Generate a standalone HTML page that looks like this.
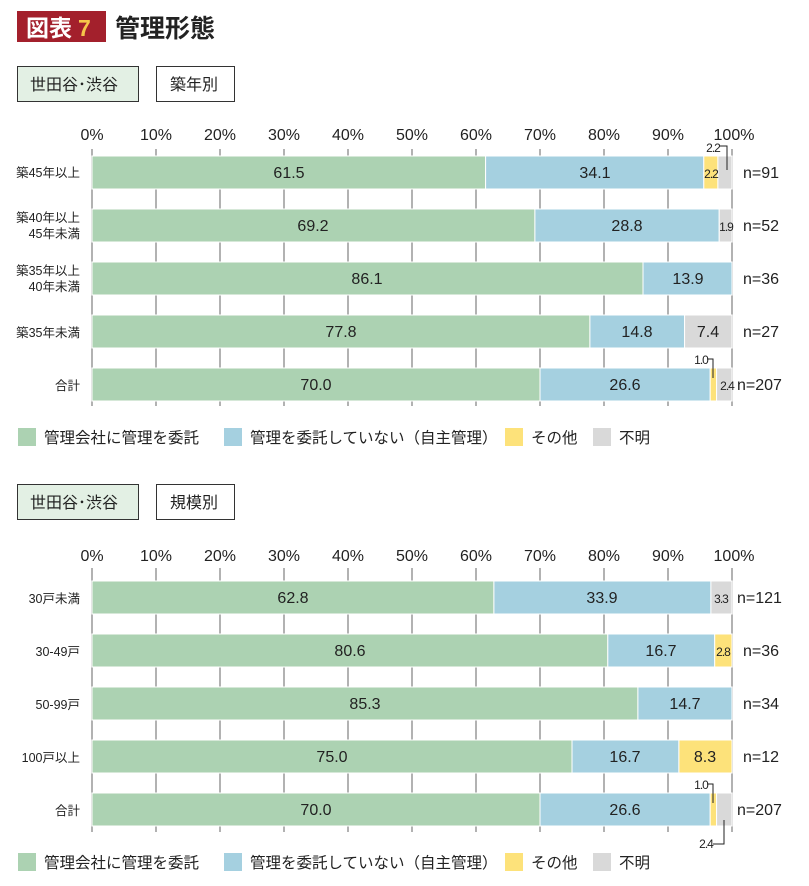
<!DOCTYPE html>
<html><head><meta charset="utf-8"><style>
body{margin:0;background:#fff;width:809px;height:886px;overflow:hidden}
svg{display:block;font-family:"Liberation Sans","Noto Sans CJK JP",sans-serif}
</style></head><body>
<svg width="809" height="886" viewBox="0 0 809 886">
<rect x="17" y="11" width="89" height="31" fill="#a3202c"/>
<text x="26" y="36" font-size="23" font-weight="bold" fill="#fff">図表</text>
<text x="78" y="36" font-size="23" font-weight="bold" fill="#f6c64a">7</text>
<text x="115" y="37" font-size="25" font-weight="bold" fill="#222">管理形態</text>

<g font-size="16" fill="#222">
<rect x="17.5" y="66.5" width="121" height="35" fill="#e3f0e4" stroke="#333"/>
<text x="30" y="90">世田谷･渋谷</text>
<rect x="156.5" y="66.5" width="78" height="35" fill="#fff" stroke="#333"/>
<text x="170" y="90">築年別</text>
<rect x="17.5" y="484.5" width="121" height="35" fill="#e3f0e4" stroke="#333"/>
<text x="30" y="508">世田谷･渋谷</text>
<rect x="156.5" y="484.5" width="78" height="35" fill="#fff" stroke="#333"/>
<text x="170" y="508">規模別</text>
</g>

<!-- axis labels -->
<g font-size="16" fill="#222" text-anchor="middle">
<text x="92" y="140">0%</text><text x="156" y="140">10%</text><text x="220" y="140">20%</text><text x="284" y="140">30%</text><text x="348" y="140">40%</text><text x="412" y="140">50%</text><text x="476" y="140">60%</text><text x="540" y="140">70%</text><text x="604" y="140">80%</text><text x="668" y="140">90%</text><text x="734" y="140">100%</text>
<text x="92" y="561">0%</text><text x="156" y="561">10%</text><text x="220" y="561">20%</text><text x="284" y="561">30%</text><text x="348" y="561">40%</text><text x="412" y="561">50%</text><text x="476" y="561">60%</text><text x="540" y="561">70%</text><text x="604" y="561">80%</text><text x="668" y="561">90%</text><text x="734" y="561">100%</text>
</g>
<g stroke="#999" stroke-width="1.5">
<line x1="92" y1="149" x2="92" y2="406"/><line x1="156" y1="149" x2="156" y2="406"/><line x1="220" y1="149" x2="220" y2="406"/><line x1="284" y1="149" x2="284" y2="406"/><line x1="348" y1="149" x2="348" y2="406"/><line x1="412" y1="149" x2="412" y2="406"/><line x1="476" y1="149" x2="476" y2="406"/><line x1="540" y1="149" x2="540" y2="406"/><line x1="604" y1="149" x2="604" y2="406"/><line x1="668" y1="149" x2="668" y2="406"/><line x1="732" y1="149" x2="732" y2="406"/>
<line x1="92" y1="568" x2="92" y2="832"/><line x1="156" y1="568" x2="156" y2="832"/><line x1="220" y1="568" x2="220" y2="832"/><line x1="284" y1="568" x2="284" y2="832"/><line x1="348" y1="568" x2="348" y2="832"/><line x1="412" y1="568" x2="412" y2="832"/><line x1="476" y1="568" x2="476" y2="832"/><line x1="540" y1="568" x2="540" y2="832"/><line x1="604" y1="568" x2="604" y2="832"/><line x1="668" y1="568" x2="668" y2="832"/><line x1="732" y1="568" x2="732" y2="832"/>
</g>

<!-- chart 1 bars -->
<g stroke="#fff" stroke-width="1">
<rect x="92" y="156" width="393.6" height="33" fill="#acd2b2"/><rect x="485.6" y="156" width="218.2" height="33" fill="#a5d0e0"/><rect x="703.8" y="156" width="14.1" height="33" fill="#fde27a"/><rect x="717.9" y="156" width="14.1" height="33" fill="#d9d9d9"/>
<rect x="92" y="209" width="442.9" height="33" fill="#acd2b2"/><rect x="534.9" y="209" width="184.3" height="33" fill="#a5d0e0"/><rect x="719.2" y="209" width="12.8" height="33" fill="#d9d9d9"/>
<rect x="92" y="262" width="551" height="33" fill="#acd2b2"/><rect x="643" y="262" width="89" height="33" fill="#a5d0e0"/>
<rect x="92" y="315" width="497.9" height="33" fill="#acd2b2"/><rect x="589.9" y="315" width="94.7" height="33" fill="#a5d0e0"/><rect x="684.6" y="315" width="47.4" height="33" fill="#d9d9d9"/>
<rect x="92" y="368" width="448" height="33" fill="#acd2b2"/><rect x="540" y="368" width="170.2" height="33" fill="#a5d0e0"/><rect x="710.2" y="368" width="6.4" height="33" fill="#fde27a"/><rect x="716.6" y="368" width="15.4" height="33" fill="#d9d9d9"/>
</g>
<!-- chart 2 bars -->
<g stroke="#fff" stroke-width="1">
<rect x="92" y="581" width="401.9" height="33" fill="#acd2b2"/><rect x="493.9" y="581" width="217" height="33" fill="#a5d0e0"/><rect x="710.9" y="581" width="21.1" height="33" fill="#d9d9d9"/>
<rect x="92" y="634" width="515.8" height="33" fill="#acd2b2"/><rect x="607.8" y="634" width="106.9" height="33" fill="#a5d0e0"/><rect x="714.7" y="634" width="17.3" height="33" fill="#fde27a"/>
<rect x="92" y="687" width="545.9" height="33" fill="#acd2b2"/><rect x="637.9" y="687" width="94.1" height="33" fill="#a5d0e0"/>
<rect x="92" y="740" width="480" height="33" fill="#acd2b2"/><rect x="572" y="740" width="106.9" height="33" fill="#a5d0e0"/><rect x="678.9" y="740" width="53.1" height="33" fill="#fde27a"/>
<rect x="92" y="793" width="448" height="33" fill="#acd2b2"/><rect x="540" y="793" width="170.2" height="33" fill="#a5d0e0"/><rect x="710.2" y="793" width="6.4" height="33" fill="#fde27a"/><rect x="716.6" y="793" width="15.4" height="33" fill="#d9d9d9"/>
</g>

<g font-size="16" fill="#222" text-anchor="middle">
<text x="289" y="178">61.5</text><text x="595" y="178">34.1</text>
<text x="313" y="231">69.2</text><text x="627" y="231">28.8</text>
<text x="367" y="284">86.1</text><text x="688" y="284">13.9</text>
<text x="341" y="337">77.8</text><text x="637" y="337">14.8</text><text x="708" y="337">7.4</text>
<text x="316" y="390">70.0</text><text x="625" y="390">26.6</text>
<text x="293" y="603">62.8</text><text x="602" y="603">33.9</text>
<text x="350" y="656">80.6</text><text x="661" y="656">16.7</text>
<text x="365" y="709">85.3</text><text x="685" y="709">14.7</text>
<text x="332" y="762">75.0</text><text x="625" y="762">16.7</text><text x="705" y="762">8.3</text>
<text x="316" y="815">70.0</text><text x="625" y="815">26.6</text>
</g>
<g font-size="12" fill="#222" text-anchor="middle" letter-spacing="-1">
<text x="711" y="178">2.2</text><text x="713" y="152">2.2</text>
<text x="726" y="231">1.9</text>
<text x="701" y="364">1.0</text><text x="727" y="390">2.4</text>
<text x="721" y="603">3.3</text>
<text x="723" y="656">2.8</text>
<text x="701" y="789">1.0</text><text x="706" y="848">2.4</text>
</g>
<g stroke="#222" stroke-width="1" fill="none">
<polyline points="720,146 727,146 727,170"/>
<polyline points="707,359 713,359 713,378"/>
<polyline points="707,784 713,784 713,803"/>
<polyline points="713,844 724,844 724,820"/>
</g>

<g font-size="16" fill="#222">
<text x="743" y="178">n=91</text><text x="743" y="231">n=52</text><text x="743" y="284">n=36</text><text x="743" y="337">n=27</text><text x="737" y="390">n=207</text>
<text x="737" y="603">n=121</text><text x="743" y="656">n=36</text><text x="743" y="709">n=34</text><text x="743" y="762">n=12</text><text x="737" y="815">n=207</text>
</g>
<g font-size="12.5" fill="#222" text-anchor="end">
<text x="80" y="177">築45年以上</text>
<text x="80" y="222">築40年以上</text><text x="80" y="238">45年未満</text>
<text x="80" y="275">築35年以上</text><text x="80" y="291">40年未満</text>
<text x="80" y="337">築35年未満</text>
<text x="80" y="390">合計</text>
<text x="80" y="603">30戸未満</text>
<text x="80" y="656">30-49戸</text>
<text x="80" y="709">50-99戸</text>
<text x="80" y="762">100戸以上</text>
<text x="80" y="815">合計</text>
</g>

<!-- legends -->
<g font-size="15.5" fill="#222">
<rect x="18" y="428" width="18" height="18" fill="#acd2b2"/><text x="44" y="443">管理会社に管理を委託</text>
<rect x="224" y="428" width="18" height="18" fill="#a5d0e0"/><text x="250" y="443">管理を委託していない（自主管理）</text>
<rect x="505" y="428" width="18" height="18" fill="#fde27a"/><text x="531" y="443">その他</text>
<rect x="593" y="428" width="18" height="18" fill="#d9d9d9"/><text x="619" y="443">不明</text>
<rect x="18" y="853" width="18" height="18" fill="#acd2b2"/><text x="44" y="868">管理会社に管理を委託</text>
<rect x="224" y="853" width="18" height="18" fill="#a5d0e0"/><text x="250" y="868">管理を委託していない（自主管理）</text>
<rect x="505" y="853" width="18" height="18" fill="#fde27a"/><text x="531" y="868">その他</text>
<rect x="593" y="853" width="18" height="18" fill="#d9d9d9"/><text x="619" y="868">不明</text>
</g>
</svg>
</body></html>
